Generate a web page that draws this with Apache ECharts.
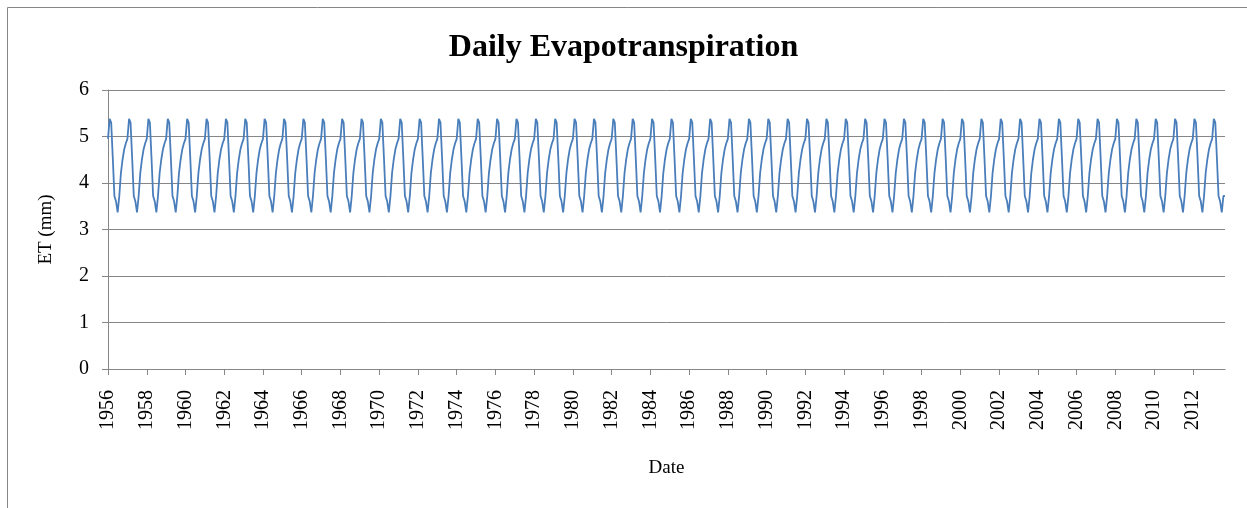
<!DOCTYPE html>
<html>
<head>
<meta charset="utf-8">
<script src="https://cdn.jsdelivr.net/npm/echarts@6/dist/echarts.min.js"></script>
<style>
html,body{margin:0;padding:0;background:#fff;}
#chart{width:1247px;height:508px;}
</style>
</head>
<body>
<div id="chart"></div>
<script>
// ---- data ----
const startDate = '1956-01-01';
const endDate = '2013-08-31';
// Mean daily ET (mm) for each calendar month, Jan..Dec (read from the repeating annual cycle)
const monthlyET = [4.95, 5.38, 5.30, 4.52, 3.72, 3.60, 3.37, 3.72, 4.22, 4.50, 4.72, 4.85];
const yTicks = [0, 1, 2, 3, 4, 5, 6];
const titleText = 'Daily Evapotranspiration';
const yName = 'ET (mm)';
const xName = 'Date';

// ---- build daily table ----
const dates = [];
const values = [];
(function(){
  const d = new Date(startDate + 'T00:00:00Z');
  const end = new Date(endDate + 'T00:00:00Z');
  while (d <= end) {
    dates.push(d.toISOString().slice(0, 10));
    values.push(monthlyET[d.getUTCMonth()]);
    d.setUTCDate(d.getUTCDate() + 1);
  }
})();

function isLabelDay(v){
  // Jan 1 of even years
  return v.slice(5) === '01-01' && (parseInt(v.slice(0,4),10) % 2 === 0);
}

const serif = '"Liberation Serif", "Times New Roman", serif';
const gridColor = '#868686';

const chart = echarts.init(document.getElementById('chart'), null, {renderer: 'canvas'});
chart.setOption({
  animation: false,
  backgroundColor: '#ffffff',
  title: {
    text: titleText,
    left: 'center',
    top: 27,
    textStyle: {fontFamily: serif, fontSize: 32, fontWeight: 'bold', color: '#000'}
  },
  graphic: [{
    type: 'rect',
    shape: {x: 7.5, y: 7.5, width: 1400, height: 700},
    style: {fill: 'none', stroke: '#868686', lineWidth: 1},
    silent: true,
    z: -1
  }],
  grid: {left: 108, right: 22, top: 90, bottom: 139, containLabel: false},
  xAxis: {
    type: 'category',
    data: dates,
    boundaryGap: false,
    name: xName,
    nameLocation: 'middle',
    nameGap: 90,
    nameTextStyle: {fontFamily: serif, fontSize: 19, color: '#000'},
    axisLine: {show: true, lineStyle: {color: gridColor, width: 1}},
    axisTick: {show: true, length: 6, interval: function(i, v){ return isLabelDay(v); }, lineStyle: {color: gridColor}},
    axisLabel: {
      rotate: 90,
      margin: 21,
      interval: function(i, v){ return isLabelDay(v); },
      formatter: function(v){ return v.slice(0,4); },
      fontFamily: serif, fontSize: 20, color: '#000'
    },
    splitLine: {show: false}
  },
  yAxis: {
    type: 'value',
    min: yTicks[0],
    max: yTicks[yTicks.length-1],
    interval: 1,
    name: yName,
    nameLocation: 'middle',
    nameGap: 52,
    nameRotate: 90,
    nameTextStyle: {fontFamily: serif, fontSize: 19, color: '#000'},
    axisLine: {show: true, lineStyle: {color: gridColor, width: 1}},
    axisTick: {show: true, length: 6, lineStyle: {color: gridColor}},
    axisLabel: {margin: 19, fontFamily: serif, fontSize: 20, color: '#000'},
    splitLine: {show: true, lineStyle: {color: gridColor, width: 1}}
  },
  series: [{
    type: 'line',
    data: values,
    showSymbol: false,
    symbol: 'none',
    lineStyle: {color: '#4A7EBB', width: 1.8},
    itemStyle: {color: '#4A7EBB'},
    silent: true
  }]
});
</script>
</body>
</html>
